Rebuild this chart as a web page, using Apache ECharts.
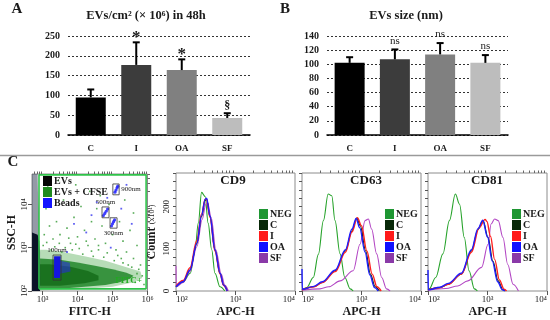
<!DOCTYPE html>
<html><head><meta charset="utf-8">
<script src="https://cdn.jsdelivr.net/npm/echarts@6/dist/echarts.min.js"></script>
<style>html,body{margin:0;padding:0;background:#fff}#c{width:550px;height:320px}</style>
</head><body><div id="c"></div>
<script>
// ---------- Panel A / B data ----------
const categories = ['C', 'I', 'OA', 'SF'];
const evCount = [95, 177, 164, 43];
const evCountErr = [115, 234, 191, 55];
const evCountMark = ['', '*', '*', '§'];
const evSize = [102, 107, 114, 102];
const evSizeErr = [110, 121, 130, 113];
const evSizeMark = ['', 'ns', 'ns', 'ns'];
const barColors = ['#000000', '#3c3c3c', '#808080', '#bdbdbd'];

// ---------- Panel C scatter (log10 exponents: [FITC-H, SSC-H]) ----------
const scatterXTicks = [3, 4, 5, 6];
const scatterYTicks = [2, 3, 4];
const evsDense = [[2.7,2.0],[2.93,2.0],[2.93,2.9],[2.91,3.15],[2.86,3.3],[2.7,3.35]];
const evsSpread = [[2.7,3.3],[2.9,3.2],[2.9,3.8],[2.87,4.3],[2.86,4.7],[2.7,4.7]];
const cfseHalo = [[2.93,2.02],[4.0,2.04],[5.0,2.1],[5.6,2.2],[5.85,2.3],[5.8,2.45],[5.4,2.55],[4.8,2.7],[4.2,2.8],[3.6,2.9],[3.1,2.95],[2.93,2.95]];
const cfseCore = [[2.93,2.06],[3.6,2.06],[4.2,2.1],[4.8,2.14],[5.2,2.2],[5.5,2.28],[5.6,2.35],[5.4,2.42],[5.0,2.5],[4.5,2.58],[4.0,2.66],[3.5,2.72],[2.93,2.75]];
const cfseInner = [[2.93,2.12],[3.5,2.12],[4.2,2.18],[4.6,2.25],[4.6,2.35],[4.3,2.46],[3.8,2.56],[3.2,2.62],[2.93,2.62]];
const cfseDots = [[3.05,3.3],[3.2,3.5],[3.1,3.9],[3.3,3.2],[3.4,3.6],[3.5,3.3],[3.6,4.1],[3.7,3.45],[3.8,3.1],[3.9,3.7],[4.0,3.25],[4.1,3.95],[4.2,3.4],[4.3,3.05],[4.35,4.3],[4.4,3.6],[4.5,3.2],[4.55,3.9],[4.6,2.95],[4.7,3.5],[4.8,3.1],[4.9,4.0],[5.0,3.3],[5.1,2.95],[5.2,3.6],[5.3,3.15],[5.4,2.9],[5.5,3.4],[5.6,2.75],[5.7,3.05],[5.8,2.6],[3.15,4.4],[3.45,4.55],[3.95,4.45],[4.65,4.2],[5.35,4.1],[5.6,3.8],[3.25,2.95],[3.55,2.9],[3.85,2.95],[4.15,2.85],[4.45,2.8],[4.75,2.78],[5.05,2.7],[5.25,2.75],[5.45,2.6],[5.75,2.5],[5.85,2.35],[5.65,2.2],[5.9,2.15],[3.02,3.05],[3.12,3.12],[3.35,3.02],[3.48,3.1],[3.65,3.0],[3.75,3.22],[3.95,3.08],[4.05,2.98],[4.25,3.15],[4.4,2.92],[4.6,3.05],[4.85,2.88],[5.15,2.82],[5.3,2.65],[5.55,2.55],[5.7,2.4]];
const beads100 = [[3.33,2.3],[3.5,2.3],[3.52,2.8],[3.33,2.8]];
const beads100Tail = [[3.5,2.4],[3.8,2.45],[3.78,2.65],[3.5,2.7]];
const beadDots = [[5.07,4.28],[5.1,4.33],[5.13,4.38],[5.15,4.42],[4.74,3.74],[4.78,3.79],[4.82,3.84],[4.86,3.89],[4.97,3.5],[5.0,3.55],[5.03,3.6],[5.06,3.64]];
const beadNoise = [[4.4,3.75],[4.55,4.05],[4.85,4.15],[5.25,3.9],[5.4,4.45],[4.25,3.35],[3.9,3.55],[5.55,3.55],[4.95,3.0],[3.7,2.9]];
const gateNames = ['900nm', '500nm', '300nm', '100nm'];
const gateBoxes = [[5.01,4.22,5.19,4.47],[4.7,3.69,4.9,3.94],[4.93,3.45,5.13,3.69],[3.3,2.25,3.53,2.83]];
const fitcGate = [[2.9,2.05],[5.96,2.05],[5.96,4.68],[2.9,4.68],[2.9,2.05]];

// ---------- Histograms (x = log10 APC-H, y = count x10) ----------
const histXTicks = [2, 3, 4];
const histYLabels = [0, 100, 200];
const histYTicks = [0, 20, 40, 60, 80, 100, 120, 140, 160, 180, 200, 220, 240, 260, 280];
const histNames = ['NEG', 'C', 'I', 'OA', 'SF'];
const cd9 = {
  NEG: [[2.0,10],[2.12,22],[2.24,42],[2.32,98],[2.375,161],[2.43,234],[2.49,224],[2.54,161],[2.6,98],[2.655,42],[2.74,10],[2.82,0]],
  C:   [[2.0,10],[2.12,22],[2.235,50],[2.35,113],[2.43,177],[2.49,215],[2.515,218],[2.57,177],[2.655,98],[2.74,42],[2.8,14],[2.86,0]],
  I:   [[2.0,12],[2.12,25],[2.235,55],[2.35,120],[2.43,183],[2.49,217],[2.51,219],[2.57,175],[2.655,95],[2.74,40],[2.8,13],[2.86,0]],
  OA:  [[2.0,10],[2.12,22],[2.235,50],[2.35,113],[2.43,180],[2.49,218],[2.515,220],[2.57,178],[2.655,98],[2.74,42],[2.8,14],[2.86,0]],
  SF:  [[2.0,60],[2.005,10],[2.12,20],[2.235,46],[2.35,105],[2.44,170],[2.5,205],[2.53,210],[2.59,175],[2.67,98],[2.76,40],[2.82,14],[2.88,0]]
};
const cd63 = {
  NEG: [[2.0,2],[2.08,8],[2.19,32],[2.275,87],[2.36,167],[2.44,230],[2.5,226],[2.555,167],[2.64,88],[2.72,32],[2.81,5],[2.86,0]],
  C:   [[2.0,3],[2.2,10],[2.34,20],[2.56,48],[2.73,95],[2.84,143],[2.92,173],[2.98,155],[3.07,95],[3.15,40],[3.23,10],[3.3,0]],
  I:   [[2.0,3],[2.2,10],[2.34,20],[2.56,46],[2.73,92],[2.84,140],[2.93,174],[3.0,155],[3.09,95],[3.18,40],[3.26,10],[3.33,0]],
  OA:  [[2.0,52],[2.005,4],[2.2,11],[2.34,22],[2.56,50],[2.73,98],[2.84,147],[2.91,172],[2.97,150],[3.06,92],[3.14,38],[3.22,8],[3.28,0]],
  SF:  [[2.0,2],[2.3,5],[2.45,10],[2.64,24],[2.86,48],[2.975,111],[3.06,167],[3.115,171],[3.17,147],[3.255,88],[3.34,32],[3.42,5],[3.48,0]]
};
const cd81 = {
  NEG: [[2.0,3],[2.02,5],[2.13,32],[2.25,88],[2.36,167],[2.46,230],[2.53,206],[2.61,127],[2.69,48],[2.78,5],[2.83,0]],
  C:   [[2.0,3],[2.2,8],[2.34,16],[2.56,40],[2.73,95],[2.84,146],[2.925,167],[3.01,127],[3.09,71],[3.18,24],[3.26,3],[3.3,0]],
  I:   [[2.0,3],[2.2,8],[2.34,16],[2.56,40],[2.73,92],[2.86,150],[2.96,170],[2.99,165],[3.05,130],[3.12,75],[3.2,26],[3.28,4],[3.32,0]],
  OA:  [[2.0,50],[2.005,3],[2.2,9],[2.34,18],[2.56,42],[2.73,98],[2.84,148],[2.92,168],[3.0,128],[3.08,71],[3.17,22],[3.25,3],[3.29,0]],
  SF:  [[2.0,2],[2.3,6],[2.5,12],[2.67,24],[2.9,56],[3.01,111],[3.06,159],[3.12,171],[3.18,167],[3.26,127],[3.34,63],[3.43,16],[3.52,0]]
};

// ---------- helpers ----------
const SERIF = "'Liberation Serif','DejaVu Serif',serif";
const INK = '#1a1a1a';
const SUP = {'0':'⁰','1':'¹','2':'²','3':'³','4':'⁴','5':'⁵','6':'⁶','7':'⁷','8':'⁸','9':'⁹'};
const pow10 = v => '10' + String(Math.round(v)).split('').map(c => SUP[c]).join('');
function logMinors(a, b) {
  const out = [];
  for (let d = Math.floor(a); d < b; d++) for (let k = 2; k <= 9; k++) {
    const v = d + Math.log10(k); if (v > a && v < b) out.push(v);
  }
  return out;
}
const lineColors = {NEG:'#27a32b', C:'#0b2a0b', I:'#ff2020', OA:'#1e1eff', SF:'#b348c4'};
const legendColors = {NEG:'#1e9632', C:'#082808', I:'#ff1a1a', OA:'#1010ff', SF:'#8a3aa8'};

const chart = echarts.init(document.getElementById('c'), null, {renderer: 'canvas'});

const grids = [
  {left: 68, top: 36, width: 182, height: 99},
  {left: 327, top: 36, width: 181, height: 99},
  {left: 32, top: 174, width: 115.5, height: 117, show: true, borderColor: '#8c8c8c', borderWidth: 1},
  {left: 176, top: 173, width: 119, height: 118, show: true, borderColor: '#8c8c8c', borderWidth: 1},
  {left: 302, top: 173, width: 119, height: 118, show: true, borderColor: '#8c8c8c', borderWidth: 1},
  {left: 428, top: 173, width: 120, height: 118, show: true, borderColor: '#8c8c8c', borderWidth: 1}
];

function barX(gi) {
  return {type: 'category', gridIndex: gi, data: categories,
    axisLine: {lineStyle: {color: '#000', width: 1.5}}, axisTick: {show: false},
    axisLabel: {fontFamily: SERIF, fontWeight: 'bold', fontSize: 9, color: INK, margin: 9}};
}
function barY(gi, max, interval) {
  return {type: 'value', gridIndex: gi, min: 0, max: max, interval: interval,
    axisLine: {show: false}, axisTick: {show: false},
    axisLabel: {fontFamily: SERIF, fontWeight: 'bold', fontSize: 10, color: INK, margin: 8},
    splitLine: {lineStyle: {color: '#333', type: [2, 2], width: 1}}};
}
function logMajor(gi, min, max, ticks, showLabel, name, nameGap, rotate, isY, edgeAlign) {
  const lbl = {show: showLabel, customValues: ticks, formatter: pow10, rotate: rotate || 0,
      fontFamily: SERIF, fontSize: 9, color: INK, margin: isY ? 3 : 4};
  if (edgeAlign) { lbl.alignMinLabel = 'left'; lbl.alignMaxLabel = 'right'; }
  return {type: 'value', gridIndex: gi, min: min, max: max,
    name: name, nameLocation: 'middle', nameGap: nameGap,
    nameTextStyle: {fontFamily: SERIF, fontWeight: 'bold', fontSize: 12, color: INK},
    axisLine: {show: false}, splitLine: {show: false},
    axisTick: {customValues: ticks, length: 4, lineStyle: {color: '#555'}},
    axisLabel: lbl};
}
function logMinor(gi, min, max) {
  return {type: 'value', gridIndex: gi, min: min, max: max,
    axisLine: {show: false}, splitLine: {show: false}, axisLabel: {show: false},
    axisTick: {customValues: logMinors(min, max), length: 2.5, lineStyle: {color: '#666'}}};
}
function histY(gi, withLabels) {
  return {type: 'value', gridIndex: gi, min: 0, max: 280,
    name: withLabels ? '{a|Count} {b|(x10¹)}' : '', nameLocation: 'middle', nameGap: 18,
    nameTextStyle: {rich: {a: {fontFamily: SERIF, fontWeight: 'bold', fontSize: 12, color: INK},
                           b: {fontFamily: SERIF, fontSize: 8, color: INK}}},
    axisLine: {show: false}, splitLine: {show: false},
    axisTick: {customValues: histYTicks, length: 3, lineStyle: {color: '#555'}},
    axisLabel: {show: withLabels, customValues: histYLabels, rotate: 90, fontFamily: SERIF, fontSize: 9, color: INK, margin: 5}};
}

const xAxis = [
  barX(0), barX(1),
  logMajor(2, 2.7, 6, scatterXTicks, true, 'FITC-H', 15),
  logMinor(2, 2.7, 6),
  logMajor(3, 2, 4, histXTicks, true, 'APC-H', 15, 0, false, true),
  logMinor(3, 2, 4),
  logMajor(4, 2, 4, histXTicks, true, 'APC-H', 15, 0, false, true),
  logMinor(4, 2, 4),
  logMajor(5, 2, 4, histXTicks, true, 'APC-H', 15, 0, false, true),
  logMinor(5, 2, 4)
];
const yAxis = [
  barY(0, 250, 50), barY(1, 140, 20),
  logMajor(2, 2, 4.7, scatterYTicks, true, 'SSC-H', 14, 90, true),
  logMinor(2, 2, 4.7),
  histY(3, true), histY(4, false), histY(5, false)
];

const series = [];
// bars, error bars and marks
[[0, evCount, evCountErr, evCountMark], [1, evSize, evSizeErr, evSizeMark]].forEach(([gi, vals, errs, marks]) => {
  series.push({type: 'bar', xAxisIndex: gi, yAxisIndex: gi, barWidth: 30, silent: true,
    data: vals.map((v, i) => ({value: v, itemStyle: {color: barColors[i]}}))});
  series.push({type: 'custom', xAxisIndex: gi, yAxisIndex: gi, z: 5, silent: true,
    data: vals.map((v, i) => [i, v, errs[i]]),
    renderItem: function (params, api) {
      const i = api.value(0);
      const b = api.coord([i, api.value(1)]);
      const t = api.coord([i, api.value(2)]);
      const m = marks[params.dataIndex];
      const children = [
        {type: 'line', shape: {x1: b[0], y1: b[1], x2: t[0], y2: t[1]}, style: {stroke: '#000', lineWidth: 2}},
        {type: 'line', shape: {x1: t[0] - 3.5, y1: t[1], x2: t[0] + 3.5, y2: t[1]}, style: {stroke: '#000', lineWidth: 2}}
      ];
      if (m) {
        let dy = 1, font = 'bold 12px ';
        if (m === '*') { dy = -4; font = 'bold 17px '; }
        if (m === 'ns') { dy = 3; font = 'normal 11px '; }
        children.push({type: 'text', x: t[0], y: t[1] - dy,
          style: {text: m, textAlign: 'center', textVerticalAlign: 'bottom', fill: INK, font: font + SERIF}});
      }
      return {type: 'group', children: children};
    }});
});

// scatter polygons
function poly(name, verts, color, opacity, z) {
  return {type: 'custom', name: name, xAxisIndex: 2, yAxisIndex: 2, z: z, silent: true, data: verts,
    renderItem: function (params, api) {
      if (params.dataIndex !== 0) return null;
      return {type: 'polygon', shape: {points: verts.map(v => api.coord(v))},
        style: {fill: color, opacity: opacity}};
    }};
}
series.push(poly('EVs + CFSE', cfseHalo, '#4aa84a', 0.4, 2));
series.push({type: 'scatter', name: 'EVs + CFSE', xAxisIndex: 2, yAxisIndex: 2, z: 2, silent: true,
  symbol: 'rect', symbolSize: 1.6, itemStyle: {color: '#2e962e'}, data: cfseDots});
series.push(poly('EVs + CFSE', cfseCore, '#22862a', 0.85, 3));
series.push(poly('EVs + CFSE', cfseInner, '#176f1c', 0.9, 3));
series.push(poly('Beads', beads100Tail, '#2626e6', 0.55, 4));
series.push(poly('Beads', beads100, '#1515e0', 1, 4));
series.push(poly('EVs', evsSpread, '#2b3550', 0.5, 5));
series.push(poly('EVs', evsDense, '#0b1228', 1, 5));
series.push({type: 'scatter', name: 'Beads', xAxisIndex: 2, yAxisIndex: 2, z: 4, silent: true,
  symbol: 'rect', symbolSize: 1.8, itemStyle: {color: '#3a3af0'}, data: beadNoise});
series.push({type: 'scatter', name: 'Beads', xAxisIndex: 2, yAxisIndex: 2, z: 6, silent: true,
  symbol: 'circle', symbolSize: 3.2, itemStyle: {color: '#1414ff'}, data: beadDots});
// FITC+ gate
series.push({type: 'line', xAxisIndex: 2, yAxisIndex: 2, z: 7, silent: true, symbol: 'none',
  lineStyle: {color: '#2fc24a', width: 1.6}, data: fitcGate});
// bead gates
const gateSide = ['right', 'top', 'bottom', 'top'];
series.push({type: 'custom', xAxisIndex: 2, yAxisIndex: 2, z: 8, silent: true,
  data: gateBoxes.map(g => [g[0], g[1]]),
  renderItem: function (params, api) {
    const g = gateBoxes[params.dataIndex];
    const p0 = api.coord([g[0], g[1]]), p1 = api.coord([g[2], g[3]]);
    const x = Math.min(p0[0], p1[0]), y = Math.min(p0[1], p1[1]);
    const w = Math.abs(p1[0] - p0[0]), h = Math.abs(p1[1] - p0[1]);
    const side = gateSide[params.dataIndex];
    let tx = x + w / 2, ty = y - 1, al = 'center', va = 'bottom';
    if (side === 'right') { tx = x + w + 2; ty = y + h / 2; al = 'left'; va = 'middle'; }
    if (side === 'bottom') { ty = y + h + 1; va = 'top'; }
    return {type: 'group', children: [
      {type: 'rect', shape: {x: x, y: y, width: w, height: h}, style: {fill: 'none', stroke: '#333', lineWidth: 0.8}},
      {type: 'text', x: tx, y: ty, style: {text: gateNames[params.dataIndex], textAlign: al, textVerticalAlign: va,
        font: '7px ' + SERIF, fill: '#222'}}
    ]};
  }});

// histograms
const drawOrder = ['NEG', 'SF', 'C', 'I', 'OA'];
[cd9, cd63, cd81].forEach((panel, p) => {
  drawOrder.forEach(n => {
    series.push({type: 'line', name: n, xAxisIndex: 4 + 2 * p, yAxisIndex: 4 + p, data: panel[n],
      showSymbol: false, symbol: 'none', smooth: 0.35, smoothMonotone: 'x', silent: true,
      lineStyle: {color: lineColors[n], width: n === 'OA' || n === 'I' ? 1.4 : 1.1},
      itemStyle: {color: lineColors[n]}});
  });
});

function histLegend(left) {
  return {left: left, top: 209, orient: 'vertical', icon: 'rect', itemWidth: 9, itemHeight: 10,
    itemGap: 1, padding: 0, selectedMode: false,
    textStyle: {fontFamily: SERIF, fontWeight: 'bold', fontSize: 10, color: INK, padding: [0, 0, 0, -3]},
    data: histNames.map(n => ({name: n, itemStyle: {color: legendColors[n]}}))};
}

const txt = (x, y, t, font, extra) => Object.assign({type: 'text', x: x, y: y,
  style: {text: t, font: font, fill: INK, textAlign: 'center', textVerticalAlign: 'middle'}}, extra || {});

chart.setOption({
  animation: false,
  backgroundColor: '#fff',
  grid: grids,
  xAxis: xAxis,
  yAxis: yAxis,
  legend: [
    {left: 43, top: 176, orient: 'vertical', icon: 'rect', itemWidth: 9, itemHeight: 10, itemGap: 1, padding: 0,
     selectedMode: false,
     textStyle: {fontFamily: SERIF, fontWeight: 'bold', fontSize: 10, color: INK, padding: [0, 0, 0, -3]},
     data: [{name: 'EVs', itemStyle: {color: '#050505'}}, {name: 'EVs + CFSE', itemStyle: {color: '#1f8a1f'}},
            {name: 'Beads', itemStyle: {color: '#1414ff'}}]},
    histLegend(259), histLegend(385), histLegend(512)
  ],
  graphic: [
    {type: 'line', shape: {x1: 0, y1: 155.5, x2: 550, y2: 155.5}, style: {stroke: '#9a9a9a', lineWidth: 1.5}},
    txt(17, 9, 'A', 'bold 15px ' + SERIF),
    txt(285, 9, 'B', 'bold 15px ' + SERIF),
    txt(13, 162, 'C', 'bold 15px ' + SERIF),
    txt(146, 16, 'EVs/cm² (× 10⁶) in 48h', 'bold 12.5px ' + SERIF),
    txt(406, 16, 'EVs size (nm)', 'bold 12.5px ' + SERIF),
    txt(233, 181, 'CD9', 'bold 13px ' + SERIF),
    txt(366, 181, 'CD63', 'bold 13px ' + SERIF),
    txt(487, 181, 'CD81', 'bold 13px ' + SERIF),
    {type: 'text', x: 142, y: 281, z: 10, style: {text: 'FITC+', font: 'bold 9px ' + SERIF, fill: '#22aa22',
      textAlign: 'right', textVerticalAlign: 'middle'}}
  ],
  series: series
});
</script></body></html>
